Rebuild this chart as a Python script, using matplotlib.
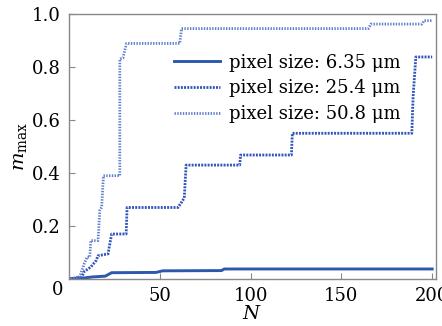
import matplotlib
matplotlib.use('Agg')
import matplotlib.pyplot as plt

plt.rcParams['font.family'] = 'DejaVu Serif'
plt.rcParams['mathtext.fontset'] = 'dejavuserif'

# step breakpoints (N, m_max)
n_635 = [1, 8, 13, 20, 23.5, 48, 51.5, 84, 85.5, 200]
m_635 = [0.002, 0.004, 0.008, 0.011, 0.024, 0.025, 0.031, 0.032, 0.038, 0.038]

n_254 = [1, 7, 8.5, 12, 15, 16, 21.5, 23.5, 31.5, 32, 60, 62, 63.5, 64.5, 94,
         94.5, 122.5, 123, 188.8, 189.5, 191, 200]
m_254 = [0.0, 0.008, 0.029, 0.045, 0.07, 0.088, 0.095, 0.17, 0.17, 0.27, 0.27,
         0.29, 0.306, 0.43, 0.43, 0.468, 0.468, 0.55, 0.55, 0.69, 0.838, 0.838]

n_508 = [1, 6, 8.5, 10, 11.5, 12, 16, 17, 18, 19, 28, 28, 29.7, 31.7, 61, 62,
         164.8, 166.3, 194.3, 195.6, 200]
m_508 = [0.0, 0.01, 0.06, 0.083, 0.083, 0.145, 0.145, 0.26, 0.27, 0.39, 0.39,
         0.83, 0.834, 0.889, 0.889, 0.945, 0.945, 0.962, 0.962, 0.975, 0.975]

labels = ['pixel size: 6.35 μm', 'pixel size: 25.4 μm', 'pixel size: 50.8 μm']

fig = plt.figure(figsize=(4.42, 3.26), dpi=100)
ax = fig.add_axes([0.156, 0.144, 0.830, 0.813])

ax.plot(n_635, m_635, color='#2d58ad', linewidth=2.1, linestyle='-', label=labels[0])
ax.plot(n_254, m_254, color='#2f55b8', linewidth=2.0, linestyle=(0, (0.7, 0.45)), label=labels[1])
ax.plot(n_508, m_508, color='#5f7fcc', linewidth=2.0, linestyle=(0, (0.5, 0.5)), label=labels[2])

ax.set_xlim(0, 202)
ax.set_ylim(0, 1.0)
ax.set_xticks([50, 100, 150, 200])
ax.set_yticks([0.2, 0.4, 0.6, 0.8, 1.0])
ax.set_yticklabels(['0.2', '0.4', '0.6', '0.8', '1.0'])
ax.text(-0.03, -0.042, '0', transform=ax.transAxes, ha='center', va='center', fontsize=13)

for s in ax.spines.values():
    s.set_color('#888888')
    s.set_linewidth(1.0)
ax.tick_params(direction='in', length=4, width=0.8, color='#888888', labelsize=13, pad=6)

ax.set_xlabel('$N$', fontsize=14, labelpad=0)
ax.set_ylabel('$m_\\mathrm{max}$', fontsize=14, labelpad=2)

ax.legend(loc='upper left', bbox_to_anchor=(0.285, 0.85), frameon=False,
          fontsize=13, handlelength=2.6, handletextpad=0.45, labelspacing=0.42,
          borderpad=0, borderaxespad=0)

fig.savefig('out.png', dpi=100)
